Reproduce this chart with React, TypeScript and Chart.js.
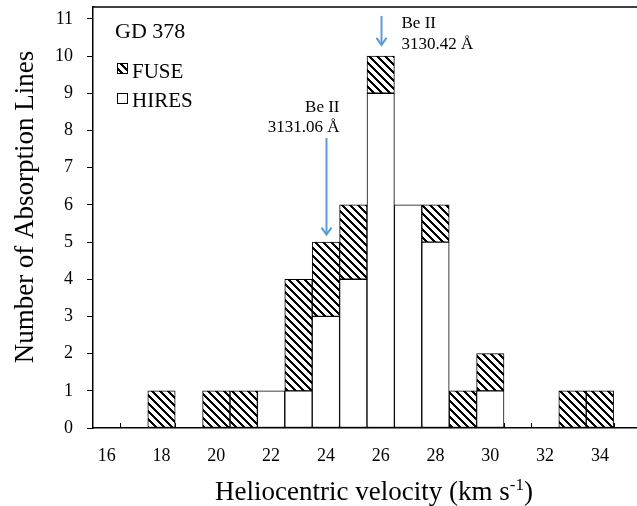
import React, { useEffect, useRef } from 'react';
import { Chart, registerables } from 'chart.js';

Chart.register(...registerables);

// ---- data ----
const velocities = [16, 17, 18, 19, 20, 21, 22, 23, 24, 25, 26, 27, 28, 29, 30, 31, 32, 33, 34, 35];
const hiresCounts = [null, null, null, null, null, null, 1, 1, 3, 4, 9, 6, 5, null, 1, null, null, null, null, null];
const fuseCounts = [null, null, 1, null, 1, 1, null, 3, 2, 2, 1, null, 1, 1, 1, null, null, 1, 1, null];
const yTicks = [0, 1, 2, 3, 4, 5, 6, 7, 8, 9, 10, 11];
const seriesNames = ['FUSE', 'HIRES'];
const starName = 'GD 378';
const lineLabels = [['Be II', '3131.06 Å'], ['Be II', '3130.42 Å']];
const lineVelocities = [24, 26];
const arrowStart = [7.8, 11.08];
const arrowEnd = [5.2, 10.3];
const xTitle = ['Heliocentric velocity (km s', '-1', ')'];
const yTitle = 'Number of Absorption Lines';

const SERIF = '"Liberation Serif", "Times New Roman", serif';
const ARROW_COLOR = '#5B9BD5';

function makeHatch(ctx: CanvasRenderingContext2D) {
  const c = document.createElement('canvas');
  c.width = 8;
  c.height = 8;
  const g = c.getContext('2d')!;
  g.fillStyle = '#fff';
  g.fillRect(0, 0, 8, 8);
  g.fillStyle = '#000';
  for (let y = 0; y < 8; y++) {
    for (let x = 0; x < 8; x++) {
      const d = (((x - y) % 8) + 8) % 8;
      if (d < 3) g.fillRect(x, y, 1, 1);
    }
  }
  return ctx.createPattern(c, 'repeat')!;
}

export default function App() {
  const ref = useRef<HTMLCanvasElement>(null);

  useEffect(() => {
    document.documentElement.style.overflow = 'hidden';
    document.body.style.overflow = 'hidden';
    document.body.style.margin = '0';
    const canvas = ref.current!;
    const ctx0 = canvas.getContext('2d')!;
    const hatch = makeHatch(ctx0);

    const decor = {
      id: 'decor',
      beforeDatasetsDraw(chart: any) {
        const { ctx, chartArea, scales } = chart;
        const x = scales.x;
        ctx.save();
        ctx.strokeStyle = '#000';
        ctx.lineWidth = 1;
        for (let i = 0; i < velocities.length - 1; i++) {
          const px = Math.round((x.getPixelForValue(i) + x.getPixelForValue(i + 1)) / 2) + 0.5;
          ctx.beginPath();
          ctx.moveTo(px, chartArea.bottom);
          ctx.lineTo(px, chartArea.bottom - 5);
          ctx.stroke();
        }
        ctx.restore();
      },
      afterDraw(chart: any) {
        const { ctx, chartArea, scales } = chart;
        const x = scales.x;
        const y = scales.y;
        ctx.save();
        // top frame line
        ctx.strokeStyle = '#000';
        ctx.lineWidth = 1.5;
        ctx.beginPath();
        ctx.moveTo(chartArea.left, chartArea.top);
        ctx.lineTo(chartArea.right + 2, chartArea.top);
        ctx.stroke();

        // star name
        ctx.fillStyle = '#000';
        ctx.textAlign = 'left';
        ctx.textBaseline = 'alphabetic';
        ctx.font = `22px ${SERIF}`;
        ctx.fillText(starName, chartArea.left + 22, chartArea.top + 31);

        // legend
        const lx = chartArea.left + 24;
        const boxes = [
          { fill: hatch, top: chartArea.top + 56, base: chartArea.top + 71 },
          { fill: '#fff', top: chartArea.top + 86, base: chartArea.top + 100 },
        ];
        ctx.font = `21px ${SERIF}`;
        boxes.forEach((b, i) => {
          ctx.fillStyle = b.fill as any;
          ctx.fillRect(lx, b.top, 10, 10);
          ctx.strokeStyle = '#000';
          ctx.lineWidth = 1;
          ctx.strokeRect(lx + 0.5, b.top + 0.5, 10, 10);
          ctx.fillStyle = '#000';
          ctx.fillText(seriesNames[i], lx + 15, b.base);
        });

        // arrows and line labels
        lineVelocities.forEach((v, i) => {
          const idx = velocities.indexOf(v);
          const px = Math.round(x.getPixelForValue(idx)) + 0.5;
          const y1 = y.getPixelForValue(arrowStart[i]);
          const y2 = y.getPixelForValue(arrowEnd[i]);
          ctx.strokeStyle = ARROW_COLOR;
          ctx.lineWidth = 2;
          ctx.beginPath();
          ctx.moveTo(px, y1);
          ctx.lineTo(px, y2 - 1);
          ctx.stroke();
          ctx.beginPath();
          ctx.moveTo(px - 5, y2 - 7);
          ctx.lineTo(px, y2);
          ctx.lineTo(px + 5, y2 - 7);
          ctx.stroke();
          ctx.fillStyle = '#000';
          ctx.font = `17px ${SERIF}`;
          if (i === 0) {
            ctx.textAlign = 'right';
            ctx.fillText(lineLabels[i][0], px + 13, y1 - 26);
            ctx.fillText(lineLabels[i][1], px + 13, y1 - 6);
          } else {
            ctx.textAlign = 'left';
            ctx.fillText(lineLabels[i][0], px + 20, y1 + 12);
            ctx.fillText(lineLabels[i][1], px + 20, y1 + 33);
          }
        });

        // x title with superscript
        ctx.fillStyle = '#000';
        ctx.textAlign = 'left';
        const big = `27px ${SERIF}`;
        const small = `17px ${SERIF}`;
        ctx.font = big;
        const w0 = ctx.measureText(xTitle[0]).width;
        const w2 = ctx.measureText(xTitle[2]).width;
        ctx.font = small;
        const w1 = ctx.measureText(xTitle[1]).width;
        const total = w0 + w1 + w2;
        const cx = 374;
        const base = 500;
        let sx = cx - total / 2;
        ctx.font = big;
        ctx.fillText(xTitle[0], sx, base);
        sx += w0;
        ctx.font = small;
        ctx.fillText(xTitle[1], sx, base - 10);
        sx += w1;
        ctx.font = big;
        ctx.fillText(xTitle[2], sx, base);

        // y title
        ctx.save();
        ctx.translate(33, 207);
        ctx.rotate(-Math.PI / 2);
        ctx.textAlign = 'center';
        ctx.font = big;
        ctx.fillText(yTitle, 0, 0);
        ctx.restore();

        ctx.restore();
      },
    };

    const chart = new Chart(canvas, {
      type: 'bar',
      data: {
        labels: velocities.map(String),
        datasets: [
          {
            label: seriesNames[1],
            data: hiresCounts as any,
            backgroundColor: '#fff',
            borderColor: '#000',
            borderWidth: 1,
            borderSkipped: false,
            barPercentage: 1,
            categoryPercentage: 1,
          },
          {
            label: seriesNames[0],
            data: fuseCounts as any,
            backgroundColor: hatch as any,
            borderColor: '#000',
            borderWidth: 1,
            borderSkipped: false,
            barPercentage: 1,
            categoryPercentage: 1,
          },
        ],
      },
      options: {
        responsive: false,
        animation: false,
        layout: { padding: { top: 7, left: 0, right: 0, bottom: 0 } },
        plugins: {
          legend: { display: false },
          tooltip: { enabled: false },
        },
        scales: {
          x: {
            stacked: true,
            z: 1,
            grid: { display: false, drawTicks: false },
            border: { display: true, color: '#000', width: 1.5 },
            ticks: {
              autoSkip: false,
              maxRotation: 0,
              padding: 17,
              color: '#000',
              font: { family: SERIF, size: 18 },
              callback: (_v: any, i: number) => (velocities[i] % 2 === 0 ? String(velocities[i]) : ''),
            },
            afterFit: (s: any) => {
              s.height = 78;
              s.paddingLeft = 0;
              s.paddingRight = 0;
            },
          },
          y: {
            stacked: true,
            min: 0,
            max: 11.32,
            z: 1,
            grid: { display: true, drawOnChartArea: false, drawTicks: true, tickLength: 6, color: '#000' },
            border: { display: true, color: '#000', width: 1.5 },
            ticks: {
              stepSize: 1,
              padding: 14,
              color: '#000',
              font: { family: SERIF, size: 18 },
            },
            afterBuildTicks: (axis: any) => {
              axis.ticks = yTicks.map((v) => ({ value: v }));
            },
            afterFit: (s: any) => {
              s.width = 93;
              s.paddingTop = 0;
              s.paddingBottom = 0;
            },
          },
        },
      },
      plugins: [decor],
    });

    return () => chart.destroy();
  }, []);

  return (
    <div style={{ position: 'absolute', left: 0, top: 0, width: 641, height: 506, background: '#fff' }}>
      <canvas ref={ref} width={641} height={506} style={{ display: 'block' }} />
    </div>
  );
}
